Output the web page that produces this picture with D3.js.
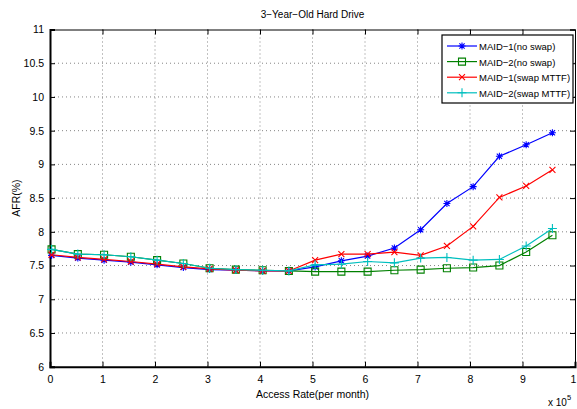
<!DOCTYPE html>
<html>
<head>
<meta charset="utf-8">
<script src="https://cdn.jsdelivr.net/npm/d3@7"></script>
<style>
  body { margin: 0; background: #fff; }
  text { font-family: 'Liberation Sans', Arial, sans-serif; fill: #000; }
</style>
</head>
<body>
<div id="chart"></div>
<script>
// Data
const accessRate = [0.03, 0.53, 1.03, 1.54, 2.04, 2.54, 3.04, 3.54, 4.05, 4.55, 5.05, 5.55, 6.05, 6.56, 7.06, 7.56, 8.06, 8.56, 9.07, 9.57]
const maid1NoSwap = [7.65, 7.61, 7.58, 7.55, 7.51, 7.47, 7.44, 7.43, 7.42, 7.42, 7.48, 7.57, 7.64, 7.76, 8.03, 8.42, 8.67, 9.12, 9.29, 9.47]
const maid2NoSwap = [7.74, 7.67, 7.66, 7.63, 7.58, 7.53, 7.46, 7.44, 7.43, 7.42, 7.41, 7.41, 7.41, 7.43, 7.44, 7.46, 7.47, 7.5, 7.7, 7.95]
const maid1Swap = [7.66, 7.62, 7.59, 7.56, 7.52, 7.48, 7.45, 7.43, 7.42, 7.42, 7.58, 7.67, 7.67, 7.7, 7.65, 7.79, 8.08, 8.51, 8.68, 8.92]
const maid2Swap = [7.74, 7.67, 7.66, 7.63, 7.58, 7.53, 7.46, 7.44, 7.43, 7.42, 7.51, 7.52, 7.56, 7.54, 7.61, 7.62, 7.58, 7.59, 7.79, 8.05]
const seriesNames = ['MAID\u22121(no swap)', 'MAID\u22122(no swap)', 'MAID\u22121(swap MTTF)', 'MAID\u22122(swap MTTF)']
const xTicks = [0, 1, 2, 3, 4, 5, 6, 7, 8, 9, 10]
const yTicks = [6, 6.5, 7, 7.5, 8, 8.5, 9, 9.5, 10, 10.5, 11]

const series = [
  { name: seriesNames[0], values: maid1NoSwap, color: '#0000ff', marker: 'star' },
  { name: seriesNames[1], values: maid2NoSwap, color: '#008000', marker: 'square' },
  { name: seriesNames[2], values: maid1Swap, color: '#ff0000', marker: 'x' },
  { name: seriesNames[3], values: maid2Swap, color: '#00bfbf', marker: 'plus' },
]

// Dimensions
const dimensions = {
  width: 577,
  height: 409,
  margins: { left: 50, top: 29.5, right: 2, bottom: 42.3 },
}
const ctrW = dimensions.width - dimensions.margins.left - dimensions.margins.right
const ctrH = dimensions.height - dimensions.margins.top - dimensions.margins.bottom

// Scales
const xScale = d3.scaleLinear().domain([0, 10]).range([0, ctrW])
const yScale = d3.scaleLinear().domain([6, 11]).range([ctrH, 0])

const svg = d3.select('#chart').append('svg')
  .attr('width', dimensions.width)
  .attr('height', dimensions.height)

const ctr = svg.append('g')
  .attr('transform', `translate(${dimensions.margins.left}, ${dimensions.margins.top})`)

// dotted grid
const grid = ctr.append('g').attr('stroke', '#666').attr('stroke-width', 0.8).attr('stroke-dasharray', '1,3')
grid.selectAll('.gx').data(xTicks.slice(1, -1)).join('line')
  .attr('x1', (d) => xScale(d)).attr('x2', (d) => xScale(d))
  .attr('y1', 0).attr('y2', ctrH)
grid.selectAll('.gy').data(yTicks.slice(1, -1)).join('line')
  .attr('y1', (d) => yScale(d)).attr('y2', (d) => yScale(d))
  .attr('x1', 0).attr('x2', ctrW)

// Axes (ticks pointing inward, MATLAB style)
const xAxis = d3.axisBottom(xScale).tickValues(xTicks).tickSize(-5).tickPadding(9)
  .tickFormat((d) => (d === 10 ? '1' : d))
const yAxis = d3.axisLeft(yScale).tickValues(yTicks).tickSize(-5).tickPadding(6)
  .tickFormat((d) => String(d))
const xAxisTop = d3.axisTop(xScale).tickValues(xTicks).tickSize(-5).tickFormat('')
const yAxisRight = d3.axisRight(yScale).tickValues(yTicks).tickSize(-5).tickFormat('')

const styleAxis = (g) => {
  g.select('.domain').attr('stroke', '#000').attr('stroke-width', 1)
  g.selectAll('.tick line').attr('stroke', '#000')
  g.selectAll('.tick text').style('font-size', '10.5px').attr('fill', '#000')
}

const xAxisGroup = ctr.append('g').attr('transform', `translate(0, ${ctrH})`).call(xAxis).call(styleAxis)
xAxisGroup.select('.domain').attr('stroke-width', 2)
xAxisGroup.selectAll('.tick text').filter((d) => d === 10).attr('dx', -2)
ctr.append('g').call(yAxis).call(styleAxis)
  .select('.domain').attr('stroke-width', 2)
ctr.append('g').call(xAxisTop).call(styleAxis)
ctr.append('g').attr('transform', `translate(${ctrW}, 0)`).call(yAxisRight).call(styleAxis)

// Markers
const markerPath = (type, s) => {
  if (type === 'square') return `M${-s},${-s}H${s}V${s}H${-s}Z`
  if (type === 'x') return `M${-s},${-s}L${s},${s}M${-s},${s}L${s},${-s}`
  if (type === 'plus') return `M${-s - 1},0H${s + 1}M0,${-s - 1}V${s + 1}`
  const d = s * 0.75
  return `M${-s},0H${s}M0,${-s}V${s}M${-d},${-d}L${d},${d}M${-d},${d}L${d},${-d}`
}

const line = d3.line()
  .x((d, i) => xScale(accessRate[i]))
  .y((d) => yScale(d))

series.forEach((s) => {
  const g = ctr.append('g')
  g.append('path')
    .attr('d', line(s.values))
    .attr('fill', 'none')
    .attr('stroke', s.color)
    .attr('stroke-width', 1.2)
  g.selectAll('path.mk').data(s.values).join('path')
    .attr('class', 'mk')
    .attr('transform', (d, i) => `translate(${xScale(accessRate[i])}, ${yScale(d)})`)
    .attr('d', markerPath(s.marker, s.marker === 'x' ? 3 : 3.5))
    .attr('fill', 'none')
    .attr('stroke', s.color)
    .attr('stroke-width', 1.1)
})

// Legend
const legend = svg.append('g').attr('transform', 'translate(442, 35)')
legend.append('rect')
  .attr('width', 131).attr('height', 68)
  .attr('fill', '#fff').attr('stroke', '#000').attr('stroke-width', 1.2)
series.forEach((s, i) => {
  const row = legend.append('g').attr('transform', `translate(0, ${11 + i * 15.6})`)
  row.append('line').attr('x1', 5).attr('x2', 35).attr('stroke', s.color).attr('stroke-width', 1.2)
  row.append('path').attr('transform', 'translate(20, 0)')
    .attr('d', markerPath(s.marker, s.marker === 'x' ? 3 : 3.5))
    .attr('fill', 'none').attr('stroke', s.color).attr('stroke-width', 1.1)
  row.append('text').attr('x', 37).attr('y', 4).style('font-size', '9.5px').text(s.name)
})

// Titles
svg.append('text')
  .attr('x', dimensions.margins.left + ctrW / 2).attr('y', 18)
  .attr('text-anchor', 'middle').style('font-size', '10px')
  .text('3\u2212Year\u2212Old Hard Drive')

svg.append('text')
  .attr('x', dimensions.margins.left + ctrW / 2).attr('y', 398)
  .attr('text-anchor', 'middle').style('font-size', '10.5px')
  .text('Access Rate(per month)')

svg.append('text')
  .attr('transform', `translate(20, ${dimensions.margins.top + ctrH / 2}) rotate(-90)`)
  .attr('text-anchor', 'middle').style('font-size', '10.5px')
  .text('AFR(%)')

const expo = svg.append('text').attr('x', 548).attr('y', 406).style('font-size', '10px')
expo.append('tspan').text('x 10')
expo.append('tspan').attr('dy', -6).style('font-size', '7.5px').text('5')
</script>
</body>
</html>
